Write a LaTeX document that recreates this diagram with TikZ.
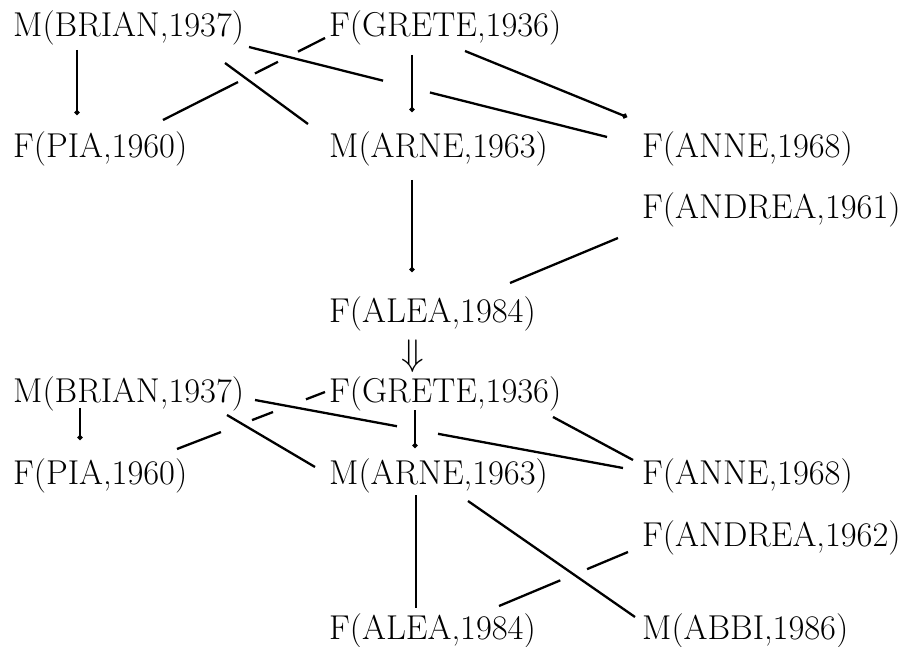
\documentclass[tikz,border=0pt]{standalone}
\usepackage{graphicx}
\usetikzlibrary{arrows.meta}
\begin{document}
\begin{tikzpicture}[x=1pt,y=-1pt,
  lbl/.style={anchor=base west, inner sep=0pt, font=\fontsize{34.5}{40}\selectfont},
  edge/.style={line width=2.3pt},
  dotend/.style={-{Circle[length=5pt,width=5pt]}}]
\useasboundingbox (0,0) rectangle (900,647);
% ---------- upper family ----------
\node[lbl] (brianT)  at (13,37)  {M(BRIAN,1937)};
\node[lbl] (greteT)  at (329,37) {F(GRETE,1936)};
\node[lbl] (piaT)    at (13,158) {F(PIA,1960)};
\node[lbl] (arneT)   at (329,158) {M(ARNE,1963)};
\node[lbl] (anneT)   at (642,158) {F(ANNE,1968)};
\node[lbl] (andreaT) at (642,219) {F(ANDREA,1961)};
\node[lbl] (aleaT)   at (329,322) {F(ALEA,1984)};
\node[inner sep=0pt] (impl) at (413,356) {\scalebox{3.7}{$\Downarrow$}};
% ---------- lower family ----------
\node[lbl] (brianB)  at (13,402)  {M(BRIAN,1937)};
\node[lbl] (greteB)  at (329,402) {F(GRETE,1936)};
\node[lbl] (piaB)    at (13,484)  {F(PIA,1960)};
\node[lbl] (arneB)   at (329,484) {M(ARNE,1963)};
\node[lbl] (anneB)   at (642,484) {F(ANNE,1968)};
\node[lbl] (andreaB) at (642,546) {F(ANDREA,1962)};
\node[lbl] (aleaB)   at (329,639) {F(ALEA,1984)};
\node[lbl] (abbiB)   at (642,639) {M(ABBI,1986)};
% ---------- upper connectors ----------
\draw[edge,dotend] ([shift={(64,13)}]brianT.base west) -- ([shift={(64,-43)}]piaT.base west);
\draw[edge] ([shift={(212,26)}]brianT.base west) -- ([shift={(-21,-34)}]arneT.base west);
\draw[edge,dash pattern={on 138.2pt off 48.4pt on 400pt}]
  ([shift={(236,10)}]brianT.base west) -- ([shift={(-35,-21)}]anneT.base west);
\draw[edge,dash pattern={on 30.3pt off 22.4pt on 25.8pt off 19pt on 200pt}]
  ([shift={(-4,1)}]greteT.base west) -- ([shift={(150,-38)}]piaT.base west);
\draw[edge,dotend] ([shift={(83,18)}]greteT.base west) -- ([shift={(83,-46)}]arneT.base west);
\draw[edge,dotend] ([shift={(136,14)}]greteT.base west) -- ([shift={(-15,-41)}]anneT.base west);
\draw[edge,dotend] ([shift={(83,22)}]arneT.base west) -- ([shift={(83,-50)}]aleaT.base west);
\draw[edge] ([shift={(-24,19)}]andreaT.base west) -- ([shift={(181,-39)}]aleaT.base west);
% ---------- lower connectors ----------
\draw[edge,dotend] ([shift={(67,6)}]brianB.base west) -- ([shift={(67,-44)}]piaB.base west);
\draw[edge] ([shift={(214,13)}]brianB.base west) -- ([shift={(-14,-17)}]arneB.base west);
\draw[edge,dash pattern={on 144.4pt off 41.7pt on 400pt}]
  ([shift={(242,-2)}]brianB.base west) -- ([shift={(-19,-16)}]anneB.base west);
\draw[edge,dash pattern={on 20.4pt off 35.3pt on 22.5pt off 33.3pt on 200pt}]
  ([shift={(-4,-10)}]greteB.base west) -- ([shift={(164,-35)}]piaB.base west);
\draw[edge,dotend] ([shift={(86,8)}]greteB.base west) -- ([shift={(86,-36)}]arneB.base west);
\draw[edge] ([shift={(224,15)}]greteB.base west) -- ([shift={(-9,-24)}]anneB.base west);
\draw[edge] ([shift={(87,11)}]arneB.base west) -- ([shift={(87,-31)}]aleaB.base west);
\draw[edge] ([shift={(139,17)}]arneB.base west) -- ([shift={(-7,-22)}]abbiB.base west);
\draw[edge,dash pattern={on 44.4pt off 29pt on 200pt}]
  ([shift={(-14,6)}]andreaB.base west) -- ([shift={(170,-33)}]aleaB.base west);
\end{tikzpicture}
\end{document}
